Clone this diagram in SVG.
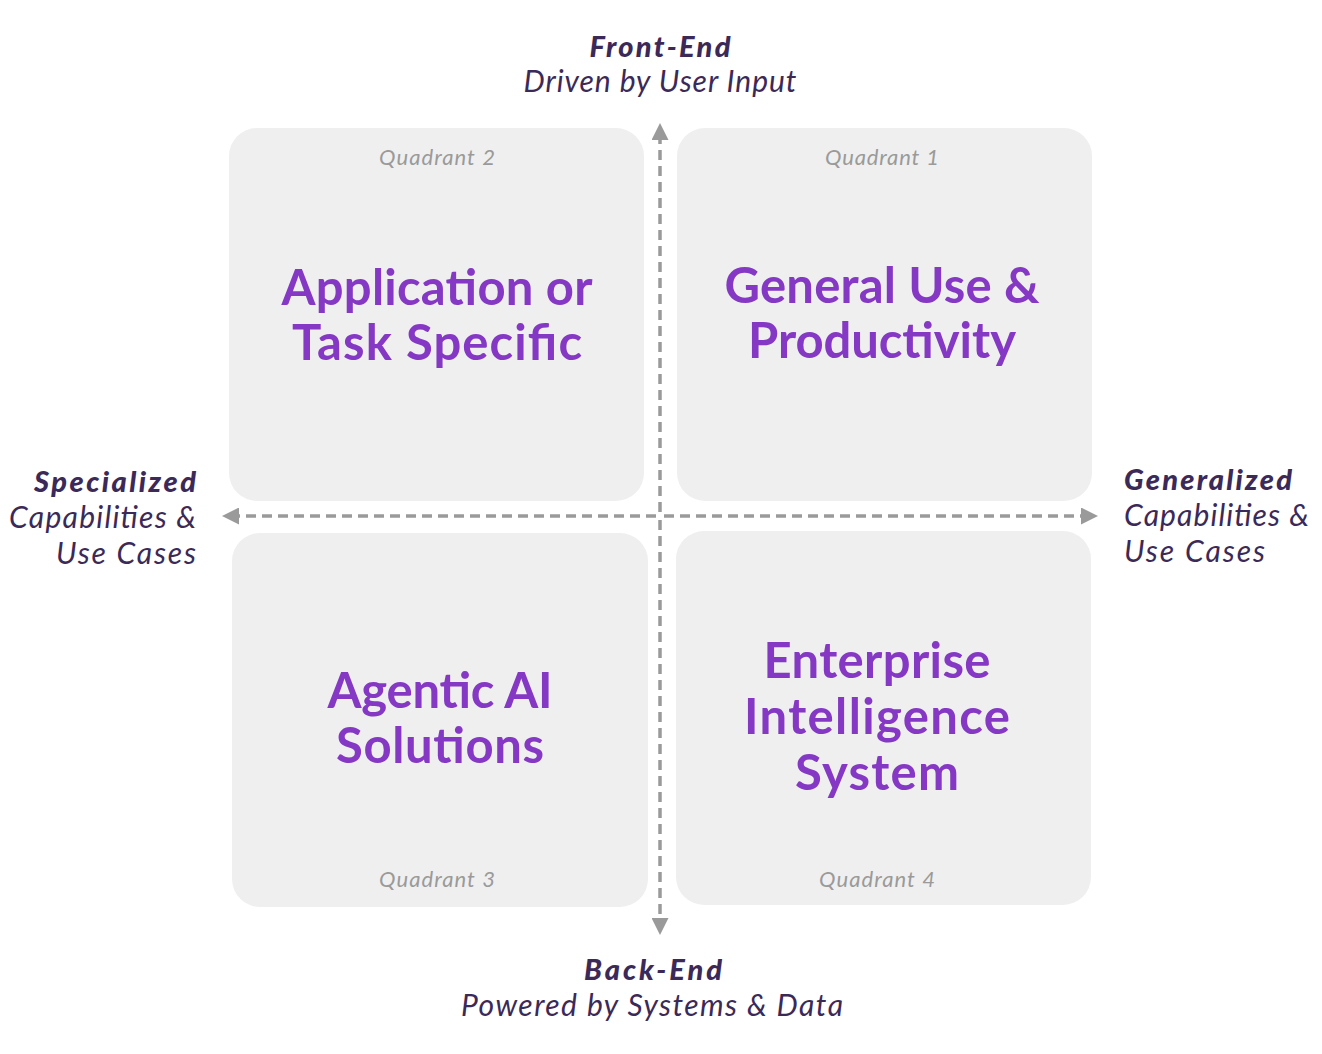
<svg xmlns="http://www.w3.org/2000/svg" width="1322" height="1054" viewBox="0 0 1322 1054">
<defs>
<style>
.box{fill:#efefef}
.main{font-family:Lato,"Open Sans",sans-serif;font-weight:700;font-size:49px;fill:#8538c4;text-anchor:middle}
.quad{font-family:Lato,"Open Sans",sans-serif;font-style:italic;font-size:22px;fill:#9a9a9a;text-anchor:middle}
.axb{font-family:Lato,"Open Sans",sans-serif;font-style:italic;font-weight:900;font-size:29px;fill:#3b2a58}
.axi{font-family:Lato,"Open Sans",sans-serif;font-style:italic;font-size:30px;fill:#3b2a58}
.axis{stroke:#9a9a9a;stroke-width:3.5;stroke-dasharray:10 6;fill:none}
</style>
<marker id="ah" markerWidth="17" markerHeight="17" refX="3" refY="8.5" orient="auto" markerUnits="userSpaceOnUse" viewBox="0 0 17 17">
<path d="M0,0 L17,8.5 L0,17 Z" fill="#9a9a9a"/>
</marker>
</defs>
<rect width="1322" height="1054" fill="#ffffff"/>
<g id="q2"><rect class="box" x="229" y="128" width="415" height="373" rx="28"/>
<text class="quad" x="437" y="165" textLength="116">Quadrant 2</text>
<text class="main" x="437" y="305" textLength="311">Application or</text>
<text class="main" x="437" y="360" textLength="290">Task Specific</text></g>
<g id="q1"><rect class="box" x="677" y="128" width="415" height="373" rx="28"/>
<text class="quad" x="882" y="165" textLength="114">Quadrant 1</text>
<text class="main" x="882" y="303" textLength="315">General Use &amp;</text>
<text class="main" x="882" y="358" textLength="268">Productivity</text></g>
<g id="q3"><rect class="box" x="232" y="533" width="416" height="374" rx="28"/>
<text class="quad" x="437" y="887" textLength="116">Quadrant 3</text>
<text class="main" x="440" y="708" textLength="225">Agentic AI</text>
<text class="main" x="440" y="763" textLength="208">Solutions</text></g>
<g id="q4"><rect class="box" x="676" y="531" width="415" height="374" rx="28"/>
<text class="quad" x="877" y="887" textLength="116">Quadrant 4</text>
<text class="main" x="877" y="678" textLength="227">Enterprise</text>
<text class="main" x="877" y="734" textLength="266">Intelligence</text>
<text class="main" x="877" y="790" textLength="164">System</text></g>
<g id="connectors">
<line class="axis" x1="660" y1="512" x2="660" y2="137" marker-end="url(#ah)"/>
<line class="axis" x1="660" y1="520" x2="660" y2="921" marker-end="url(#ah)"/>
<line class="axis" x1="656" y1="516" x2="236" y2="516" marker-end="url(#ah)"/>
<line class="axis" x1="664" y1="516" x2="1084" y2="516" marker-end="url(#ah)"/>
</g>
<g id="top"><text class="axb" x="660" y="57" text-anchor="middle" textLength="141">Front-End</text>
<text class="axi" x="660" y="92" text-anchor="middle" textLength="273">Driven by User Input</text></g>
<g id="bottom"><text class="axb" x="653" y="980" text-anchor="middle" textLength="138">Back-End</text>
<text class="axi" x="652" y="1016" text-anchor="middle" textLength="382">Powered by Systems &amp; Data</text></g>
<g id="left"><text class="axb" x="196" y="492" text-anchor="end" textLength="162">Specialized</text>
<text class="axi" x="196" y="528" text-anchor="end" textLength="187">Capabilities &amp;</text>
<text class="axi" x="196" y="564" text-anchor="end" textLength="140">Use Cases</text></g>
<g id="right"><text class="axb" x="1124" y="490" textLength="168">Generalized</text>
<text class="axi" x="1124" y="526" textLength="185">Capabilities &amp;</text>
<text class="axi" x="1124" y="562" textLength="141">Use Cases</text></g>
</svg>
